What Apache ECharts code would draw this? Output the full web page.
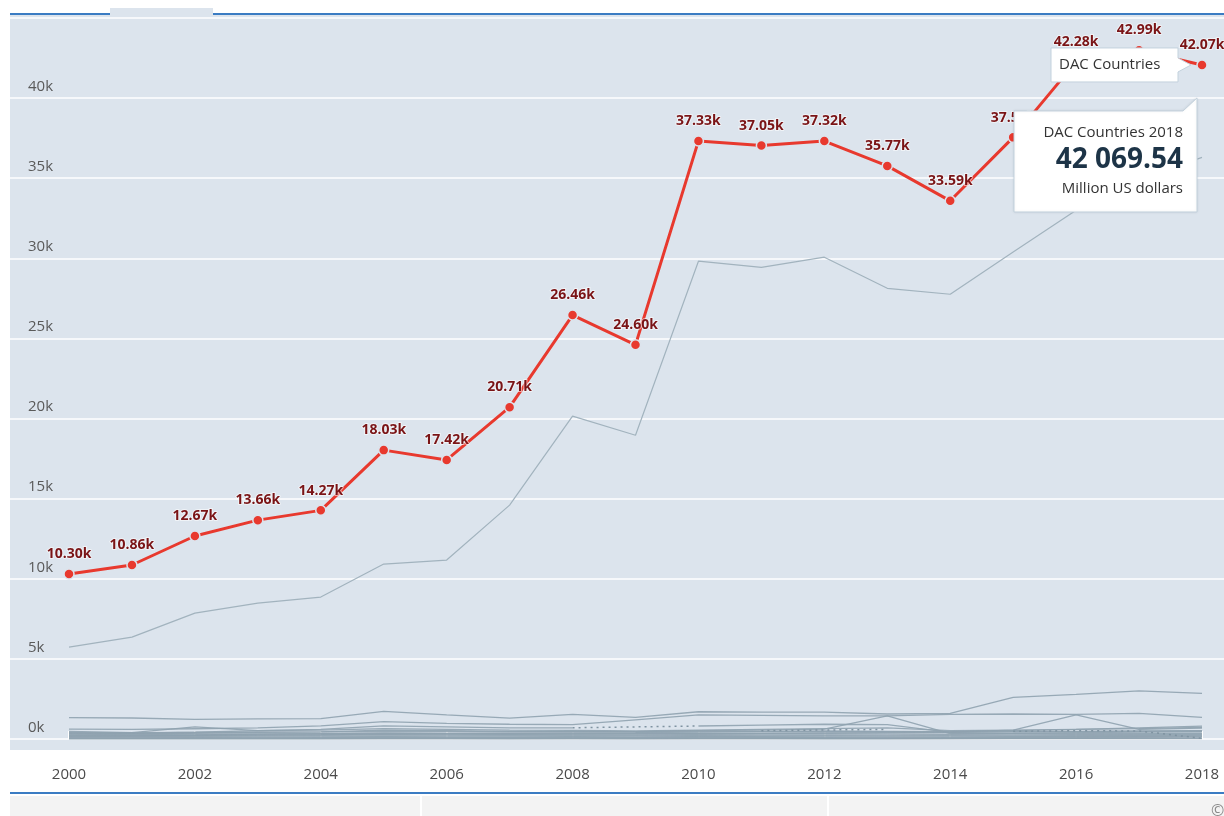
<!DOCTYPE html>
<html>
<head>
<meta charset="utf-8">
<script src="https://cdn.jsdelivr.net/npm/echarts@6/dist/echarts.min.js"></script>
<style>
html,body{margin:0;padding:0;background:#fff;}
#chart{width:1224px;height:816px;}
</style>
</head>
<body>
<div id="chart"></div>
<script>
// ---- data (million US dollars) ----
const years = ['2000','2001','2002','2003','2004','2005','2006','2007','2008','2009','2010','2011','2012','2013','2014','2015','2016','2017','2018'];
const yTicks = [0, 5000, 10000, 15000, 20000, 25000, 30000, 35000, 40000];
const dacCountries = [10300,10860,12670,13660,14270,18030,17420,20710,26460,24600,37330,37050,37320,35770,33590,37550,42280,42990,42069.54];
const grayBig = [5740,6360,7860,8480,8860,10920,11170,14600,20150,18960,29820,29440,30070,28130,27760,30400,33000,34900,36300];
const grayA = [1330,1310,1230,1250,1270,1730,1500,1300,1540,1350,1700,1680,1680,1560,1600,2600,2790,3000,2850];
const grayB = [620,600,640,700,820,1080,970,920,900,1200,1500,1480,1440,1440,1540,1560,1540,1600,1350];
const grayC = [480,400,760,520,560,650,600,560,540,500,560,600,650,700,520,560,600,650,720];
const grayD = [350,330,360,420,450,560,520,480,470,460,520,560,620,1450,330,360,400,430,460];
const grayE = [180,200,230,250,270,300,310,290,300,320,340,360,380,400,420,560,1500,600,680];
const grayF = [250,240,260,300,330,380,370,360,380,400,430,470,500,480,460,520,600,700,800];
const grayG = [380,360,420,520,600,820,760,700,700,null,810,860,920,900,420,440,460,480,500];
const grayGdot = [null,null,null,null,null,null,null,null,700,755,810,null,null,null,null,null,null,null,null];
const grayHdot = [null,null,null,null,null,null,null,null,null,null,null,520,560,600,null,null,null,null,null];
const grayH = [300,280,300,320,330,350,340,330,340,330,350,340,330,320,310,330,340,350,360];
const grayI = [220,210,230,240,250,270,260,250,260,250,270,260,250,240,250,260,270,280,290];
const grayJ = [150,160,170,180,190,200,195,190,200,190,210,200,190,180,190,200,210,220,230];
const grayK = [100,110,110,120,130,140,135,130,140,130,150,140,130,120,130,140,150,160,170];
const grayL = [60,60,70,70,80,90,85,80,90,80,100,90,80,70,80,90,100,110,120];
const grayM = [20,20,25,30,30,40,35,30,35,30,40,35,30,30,35,40,45,50,55];
const grayN = [400,390,410,430,440,480,470,450,460,440,470,460,450,440,430,460,480,500,520];
const grayO = [5,5,5,5,5,10,10,10,10,10,15,15,15,15,15,20,20,20,25];
const grayKdot = [null,null,null,null,null,null,null,null,null,null,null,null,null,null,null,480,520,500,40];

const grayLines = [grayA,grayB,grayC,grayD,grayE,grayF,grayG,grayH,grayI,grayJ,grayK,grayL,grayM,grayN,grayO];
const dottedLines = [grayGdot,grayHdot,grayKdot];

const FONT = '"Open Sans", "Noto Sans", sans-serif';
const BG = '#dce4ed';
const Y_MAX = 45250;

const chart = echarts.init(document.getElementById('chart'), null, {renderer:'canvas'});

const series = [];
series.push({
  type:'line', xAxisIndex:1, yAxisIndex:1, data: grayBig, symbol:'none', silent:true,
  lineStyle:{color:'#a2b3be', width:1.2}, z:2
});
grayLines.forEach(d => series.push({
  type:'line', xAxisIndex:1, yAxisIndex:1, data:d, symbol:'none', silent:true,
  lineStyle:{color:'#8fa2af', width:1.3, opacity:0.9}, z:2
}));
dottedLines.forEach(d => series.push({
  type:'line', xAxisIndex:1, yAxisIndex:1, data:d, symbol:'none', silent:true,
  lineStyle:{color:'#7f93a1', width:1.5, type:[2,4]}, z:2
}));
series.push({
  id:'dac', name:'DAC Countries', type:'line', xAxisIndex:1, yAxisIndex:1, data: dacCountries,
  symbol:'circle', symbolSize:10, z:5,
  lineStyle:{color:'#e8392e', width:3},
  itemStyle:{color:'#e8392e', borderColor:BG, borderWidth:1.5},
  label:{
    show:true, position:'top', distance:7,
    formatter: p => (p.value/1000).toFixed(2) + 'k',
    color:'#7a1416', fontWeight:'bold', fontSize:14, fontFamily:FONT,
    textBorderColor:'rgba(255,255,255,0.55)', textBorderWidth:2
  }
});

chart.setOption({
  animation:false,
  textStyle:{fontFamily:FONT},
  graphic:[
    {id:'bg', type:'rect', z:-100, silent:true, shape:{x:10, y:14, width:1214, height:736}, style:{fill:BG}}
  ],
  grid:[
    {left:10, right:0, top:14, bottom:77, show:false},
    {left:69, right:22, top:14, bottom:77, show:false}
  ],
  xAxis:[
    {gridIndex:0, type:'value', min:0, max:1, show:false},
    {gridIndex:1, type:'category', data:years, boundaryGap:false, offset:11,
     axisLine:{show:false},
     axisTick:{show:true, inside:true, interval:1, length:8, lineStyle:{color:'#ffffff', width:2}},
     axisLabel:{interval:1, color:'#4a4a4a', fontSize:15, margin:17, fontFamily:FONT},
     splitLine:{show:false}}
  ],
  yAxis:[
    {gridIndex:0, type:'value', min:0, max:Y_MAX, interval:5000,
     axisLine:{show:false}, axisTick:{show:false},
     axisLabel:{inside:true, margin:18, showMaxLabel:false, color:'#5a5a5a', fontSize:15,
       verticalAlign:'bottom', padding:[0,0,4,0], fontFamily:FONT,
       formatter: v => (yTicks.indexOf(v) >= 0 ? (v/1000) + 'k' : '')},
     splitLine:{show:true, lineStyle:{color:'#ffffff', width:1.5}}},
    {gridIndex:1, type:'value', min:0, max:Y_MAX, interval:5000, show:false, splitLine:{show:false}}
  ],
  series: series
});

// ---- annotations anchored to the last DAC point ----
const last = dacCountries.length - 1;
const p = chart.convertToPixel({seriesId:'dac'}, [last, dacCountries[last]]);
const px = p[0], py = p[1];
function fmtNum(v){
  const parts = v.toFixed(2).split('.');
  return parts[0].replace(/\B(?=(\d{3})+(?!\d))/g, ' ') + '.' + parts[1];
}
const b1 = {L:px-151, T:py-17, R:px-24, B:py+17};
const b2 = {L:px-188, T:py+46, R:px-5, B:py+147};
chart.setOption({
  graphic:[
    {id:'tab', type:'rect', z:50, silent:true, shape:{x:110, y:8, width:103, height:8}, style:{fill:BG}},
    {id:'topL', type:'line', z:50, silent:true, shape:{x1:10, y1:14, x2:110, y2:14}, style:{stroke:'#3b7cc3', lineWidth:2}},
    {id:'topR', type:'line', z:50, silent:true, shape:{x1:213, y1:14, x2:1224, y2:14}, style:{stroke:'#3b7cc3', lineWidth:2}},
    {id:'botLine', type:'line', z:50, silent:true, shape:{x1:10, y1:793, x2:1224, y2:793}, style:{stroke:'#3b7cc3', lineWidth:2}},
    {id:'botBand', type:'rect', z:50, silent:true, shape:{x:10, y:796, width:1214, height:20}, style:{fill:'#f3f3f3'}},
    {id:'sep1', type:'line', z:51, silent:true, shape:{x1:421, y1:796, x2:421, y2:816}, style:{stroke:'#ffffff', lineWidth:2}},
    {id:'sep2', type:'line', z:51, silent:true, shape:{x1:828, y1:796, x2:828, y2:816}, style:{stroke:'#ffffff', lineWidth:2}},
    {id:'copy', type:'text', z:51, silent:true, style:{x:1211, y:803, text:'©', fill:'#8a8a8a', font:'16px ' + FONT}},
    {id:'box1', type:'polygon', z:60, silent:true,
     shape:{points:[[b1.L,b1.T],[b1.R,b1.T],[b1.R,py-7],[px-11,py],[b1.R,py+7],[b1.R,b1.B],[b1.L,b1.B]]},
     style:{fill:'#ffffff', stroke:'#c3d2dd', lineWidth:1}},
    {id:'box1t', type:'text', z:61, silent:true,
     style:{x:b1.L+8, y:py, text:'DAC Countries', fill:'#333333', font:'15px ' + FONT, textVerticalAlign:'middle'}},
    {id:'box2', type:'polygon', z:60, silent:true,
     shape:{points:[[b2.L,b2.T],[b2.R-14,b2.T],[b2.R,b2.T-13],[b2.R,b2.B],[b2.L,b2.B]]},
     style:{fill:'#ffffff', stroke:'#c3d2dd', lineWidth:1, shadowBlur:3, shadowColor:'rgba(0,0,0,0.08)'}},
    {id:'box2a', type:'text', z:61, silent:true,
     style:{x:b2.R-14, y:py+68, text:'DAC Countries ' + years[last], fill:'#333333', font:'15px ' + FONT, textAlign:'right', textVerticalAlign:'middle'}},
    {id:'box2b', type:'text', z:61, silent:true,
     style:{x:b2.R-14, y:py+95, text:fmtNum(dacCountries[last]), fill:'#1d3447', font:'bold 28px ' + FONT, textAlign:'right', textVerticalAlign:'middle'}},
    {id:'box2c', type:'text', z:61, silent:true,
     style:{x:b2.R-14, y:py+124, text:'Million US dollars', fill:'#333333', font:'15px ' + FONT, textAlign:'right', textVerticalAlign:'middle'}}
  ]
});
</script>
</body>
</html>
